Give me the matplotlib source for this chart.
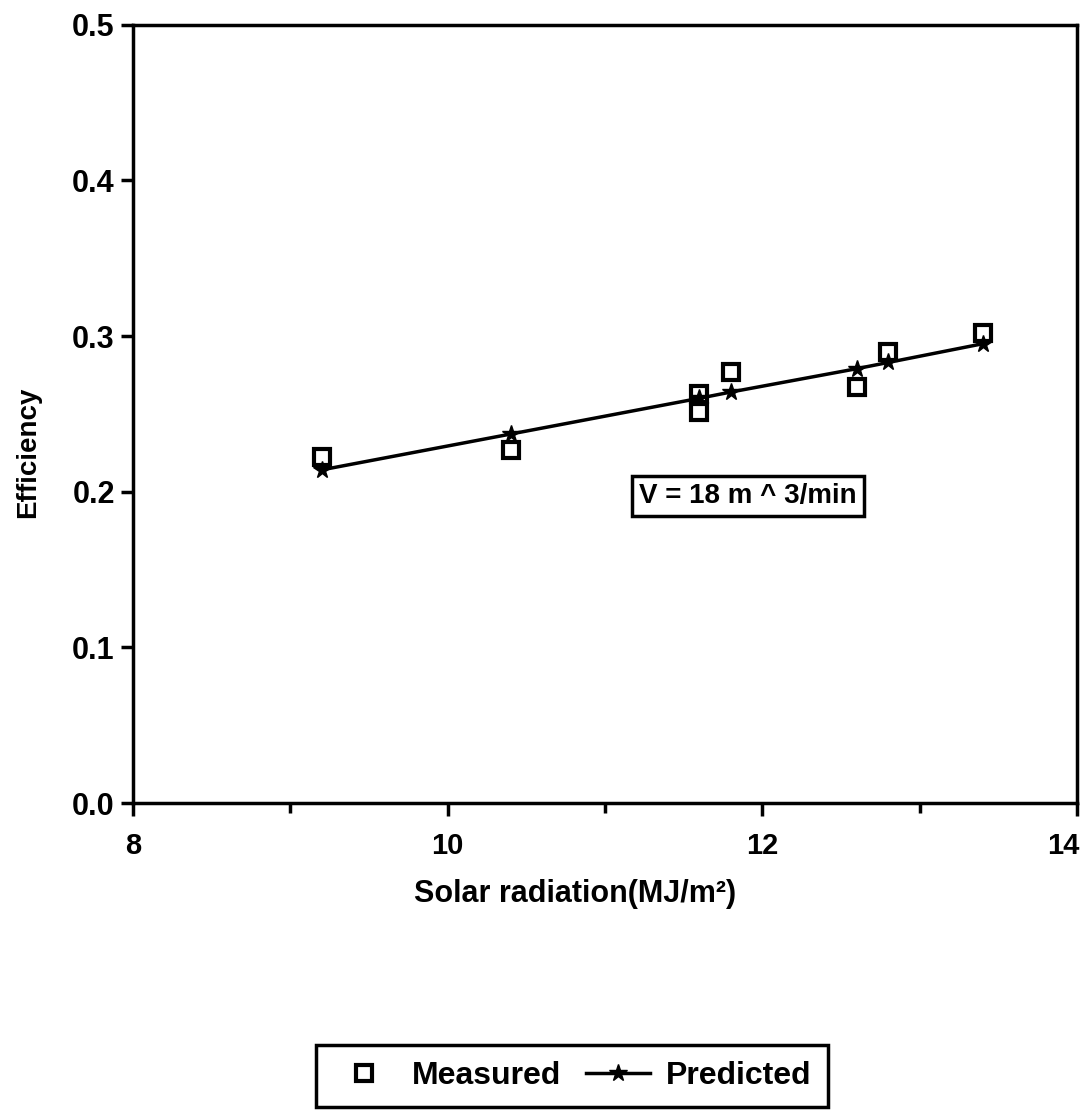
import matplotlib.pyplot as plt
from matplotlib.transforms import ScaledTranslation

plt.rcParams['font.family'] = ['Liberation Sans', 'DejaVu Sans']
plt.rcParams['font.weight'] = 'bold'
plt.rcParams['axes.labelweight'] = 'bold'

# measured points
meas_x = [9.2, 10.4, 11.6, 11.6, 11.8, 12.6, 12.8, 13.4]
meas_y = [0.222, 0.227, 0.263, 0.251, 0.277, 0.267, 0.290, 0.302]

# predicted line
pred_x = [9.2, 10.4, 11.6, 11.8, 12.6, 12.8, 13.4]
pred_y = [0.214, 0.237, 0.260, 0.264, 0.279, 0.283, 0.295]

fig = plt.figure(figsize=(10.89, 11.2), dpi=100)
ax = fig.add_axes([0.122, 0.283, 0.867, 0.695])

ax.plot(meas_x, meas_y, linestyle='none', marker='s', markersize=12,
        markerfacecolor='white', markeredgecolor='black', markeredgewidth=3,
        label='Measured')
ax.plot(pred_x, pred_y, color='black', linewidth=2.5, marker='*', markersize=13,
        markerfacecolor='black', markeredgecolor='black', label='Predicted')

ax.set_xlim(8, 14)
ax.set_ylim(0, 0.5)
ax.set_xticks([8, 10, 12, 14])
ax.set_xticks([9, 11, 13], minor=True)
ax.set_yticks([0.0, 0.1, 0.2, 0.3, 0.4, 0.5])
ax.set_yticklabels(['0.0', '0.1', '0.2', '0.3', '0.4', '0.5'])
ax.tick_params(axis='both', which='major', length=9, width=2.5, direction='out')
ax.tick_params(axis='x', which='major', labelsize=21, pad=12)
ax.tick_params(axis='y', which='major', labelsize=22, pad=4)
ax.tick_params(axis='x', which='minor', length=7, width=2.5, direction='out')
for s in ax.spines.values():
    s.set_linewidth(2.5)

# last x label sits at the figure edge; nudge it left so it is not cut
last = ax.get_xticklabels()[-1]
last.set_transform(last.get_transform() + ScaledTranslation(-10 / 72, 0, fig.dpi_scale_trans))

ax.set_xlabel('Solar radiation(MJ/m²)', fontsize=22)
ax.set_ylabel('Efficiency', fontsize=20)
ax.xaxis.set_label_coords(0.468, -0.098)
ax.yaxis.set_label_coords(-0.097, 0.45)

ax.text(11.91, 0.197, 'V = 18 m ^ 3/min', fontsize=20, ha='center', va='center',
        bbox=dict(boxstyle='square,pad=0.25', facecolor='white', edgecolor='black', linewidth=2.5))

leg = fig.legend(loc='center', bbox_to_anchor=(0.525, 0.039), ncol=2, fontsize=23,
                 frameon=True, fancybox=False, edgecolor='black', handlelength=2.0,
                 columnspacing=0.8, handletextpad=0.5, borderpad=0.5)
leg.get_frame().set_linewidth(2.5)
leg.get_frame().set_alpha(1)

fig.savefig('out.png', dpi=100)
